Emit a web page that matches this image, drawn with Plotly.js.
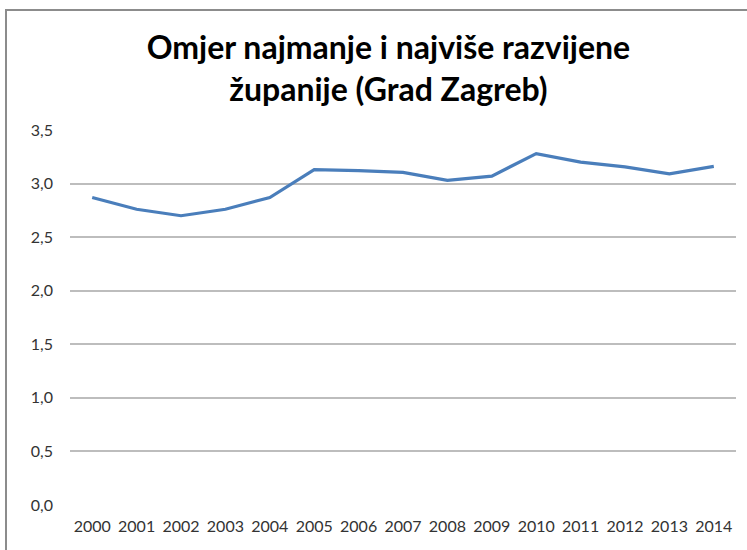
<!DOCTYPE html>
<html>
<head>
<meta charset="utf-8">
<script src="https://cdn.plot.ly/plotly-3.0.1.min.js"></script>
<style>
html,body{margin:0;padding:0;background:#fff;}
#chart{width:747px;height:550px;}
</style>
</head>
<body>
<div id="chart"></div>
<script>
const years = ["2000","2001","2002","2003","2004","2005","2006","2007","2008","2009","2010","2011","2012","2013","2014"];
const ratio = [2.87, 2.76, 2.70, 2.76, 2.87, 3.13, 3.12, 3.105, 3.03, 3.07, 3.28, 3.20, 3.155, 3.09, 3.16];
const yTickVals = [0, 0.5, 1, 1.5, 2, 2.5, 3, 3.5];
const yTickText = ["0,0","0,5","1,0","1,5","2,0","2,5","3,0","3,5"];
const titleText = "Omjer najmanje i najviše razvijene<br>županije (Grad Zagreb)";

const trace = {
  x: years,
  y: ratio,
  type: "scatter",
  mode: "lines",
  line: {color: "#4a7ebb", width: 3.2},
  hoverinfo: "x+y"
};

const layout = {
  width: 747,
  height: 550,
  margin: {l: 70, r: 11, t: 130, b: 45},
  paper_bgcolor: "#ffffff",
  plot_bgcolor: "#ffffff",
  showlegend: false,
  font: {family: "Lato, 'Open Sans', sans-serif", color: "#333333", size: 16},
  title: {
    text: titleText,
    x: 0.52, xref: "container", xanchor: "center",
    y: 0.892, yref: "container", yanchor: "top",
    font: {family: "Lato, 'Open Sans', sans-serif", size: 32, color: "#000000", weight: "bold"}
  },
  xaxis: {
    type: "category",
    range: [-0.5, 14.5],
    showgrid: false,
    zeroline: false,
    showline: false,
    ticks: "",
    ticklabelstandoff: 10,
    tickfont: {size: 16, color: "#333333"},
    fixedrange: true
  },
  yaxis: {
    range: [0, 3.5],
    tickvals: yTickVals,
    ticktext: yTickText,
    showgrid: true,
    gridcolor: "#bdbdbd",
    gridwidth: 2,
    zeroline: false,
    showline: false,
    ticks: "",
    ticklabelstandoff: 16,
    tickfont: {size: 16, color: "#333333"},
    fixedrange: true
  },
  shapes: [{
    type: "rect",
    xref: "paper", yref: "paper",
    x0: -0.0961, x1: 1.05,
    y0: -0.2, y1: 1.32,
    line: {color: "#8c8c8c", width: 2},
    fillcolor: "rgba(0,0,0,0)",
    layer: "below"
  }]
};

Plotly.newPlot("chart", [trace], layout, {displayModeBar: false, staticPlot: true});
</script>
</body>
</html>
